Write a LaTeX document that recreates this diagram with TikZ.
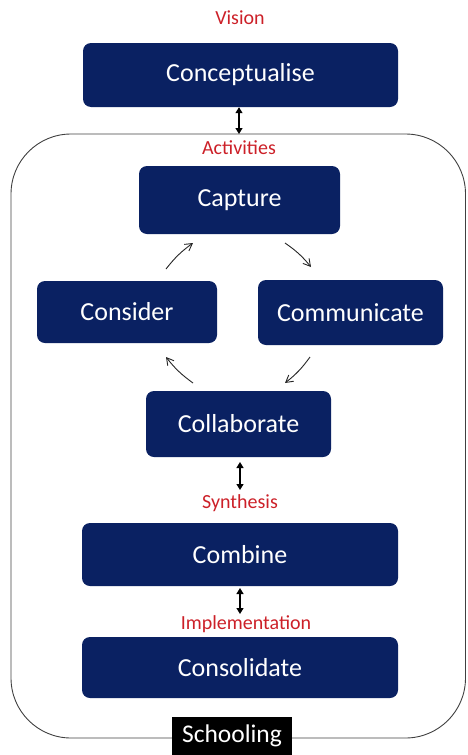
\documentclass[tikz,border=0pt]{standalone}
\usepackage{fontspec}
\setmainfont{Carlito}
\usetikzlibrary{arrows.meta}
\definecolor{navy}{RGB}{10,33,98}
\definecolor{labelred}{RGB}{204,32,40}
\tikzset{
  box/.style={fill=navy, rounded corners=8pt, text=white, inner sep=0pt,
    font=\fontsize{26}{30}\selectfont},
  stagelabel/.style={text=labelred, inner sep=0pt, font=\fontsize{20}{24}\selectfont},
  link/.style={{Triangle[length=6pt,width=7pt]}-{Triangle[length=6pt,width=7pt]}, line width=1.2pt, black},
  cycle/.style={-{Straight Barb[length=7pt,width=8pt]}, line width=0.9pt, black!85},
}
\begin{document}
\begin{tikzpicture}[x=1pt,y=-1pt]
\useasboundingbox (0,0) rectangle (467,755);

% schooling frame
\draw[line width=0.9pt, black!75, rounded corners=60pt] (11,134) rectangle (465.5,738);

% stage labels
\node[stagelabel] (vision) at (240,18) {Vision};
\node[stagelabel] (activities) at (239,148) {Activities};
\node[stagelabel] (synthesis) at (240,503) {Synthesis};
\node[stagelabel] (implementation) at (246,624) {Implementation};

% boxes
\node[box, minimum width=315pt, minimum height=64pt] (concept) at (240.5,75) {Conceptualise};
\node[box, minimum width=201pt, minimum height=68pt] (capture) at (239.5,200) {Capture};
\node[box, minimum width=180pt, minimum height=62pt] (consider) at (127,312) {Consider};
\node[box, minimum width=185pt, minimum height=65pt] (communicate) at (350.5,312.5) {Communicate};
\node[box, minimum width=185pt, minimum height=66pt] (collab) at (238.5,424) {Collaborate};
\node[box, minimum width=316pt, minimum height=63pt] (combine) at (240,554.5) {Combine};
\node[box, minimum width=316pt, minimum height=61pt] (consolidate) at (240,667.5) {Consolidate};

\node[fill=black, text=white, inner sep=0pt, minimum width=120pt, minimum height=39pt,
  font=\fontsize{25.5}{30}\selectfont] (schooling) at (232,736) {Schooling};

% vertical links
\coordinate (frametop) at (239,134);
\draw[link] (concept.south -| frametop) -- (frametop);
\coordinate (synA) at (240,462);
\coordinate (synB) at (240,490);
\draw[link] (synA) -- (synB);
\coordinate (impA) at (240,588);
\coordinate (impB) at (240,614);
\draw[link] (impA) -- (impB);

% activity cycle
\coordinate (c1a) at (166,269);
\coordinate (c1b) at (193,243);
\coordinate (c2a) at (285,243);
\coordinate (c2b) at (311,267);
\coordinate (c3a) at (310,357);
\coordinate (c3b) at (285,383);
\coordinate (c4a) at (193,383);
\coordinate (c4b) at (166,357);
\draw[cycle] (c1a) to[bend left=8] (c1b);
\draw[cycle] (c2a) to[bend left=8] (c2b);
\draw[cycle] (c3a) to[bend left=8] (c3b);
\draw[cycle] (c4a) to[bend left=8] (c4b);
\end{tikzpicture}
\end{document}
